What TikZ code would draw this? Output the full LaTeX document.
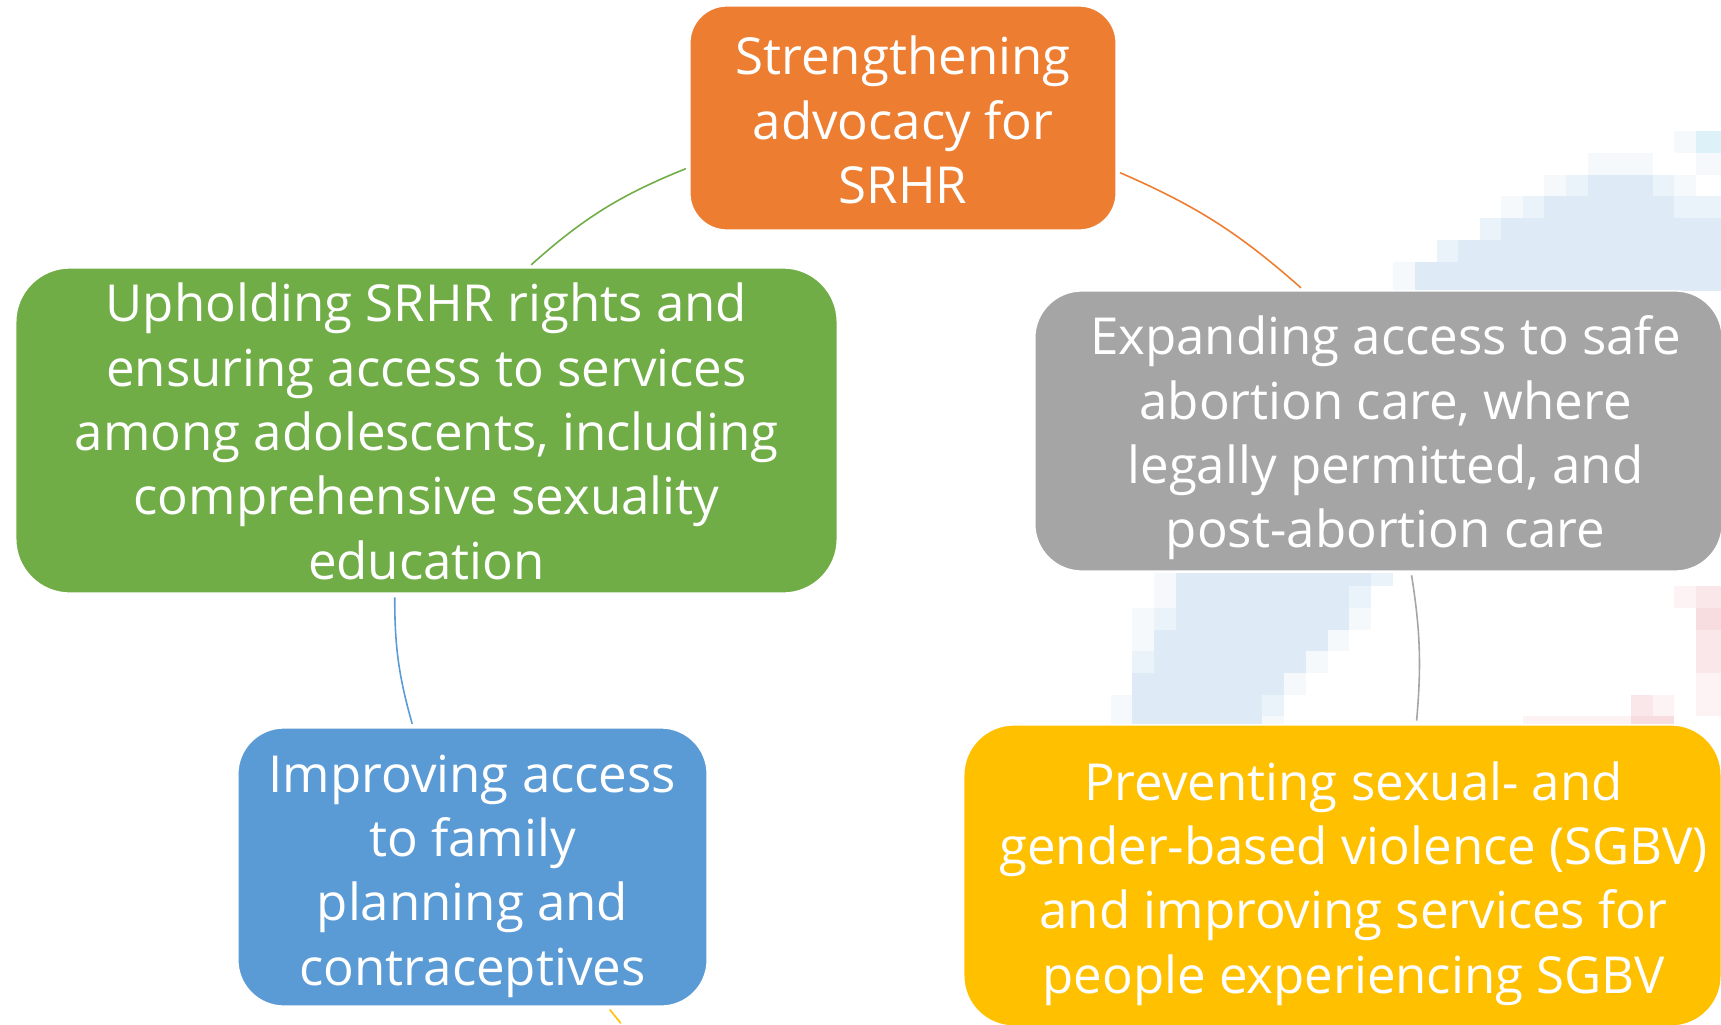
\documentclass[tikz,border=0pt]{standalone}
\usepackage{fontspec}
\setmainfont{Open Sans}
\usetikzlibrary{calc}
\definecolor{advcolor}{HTML}{ED7D31}
\definecolor{rightscolor}{HTML}{70AD47}
\definecolor{abortcolor}{HTML}{A5A5A5}
\definecolor{fpcolor}{HTML}{5B9BD5}
\definecolor{sgbvcolor}{HTML}{FFC000}
\definecolor{bgblue}{HTML}{DEEBF6}
\definecolor{bglight}{HTML}{EAF2FA}
\definecolor{bgpale}{HTML}{F5F9FC}
\definecolor{bgcyan}{HTML}{DDF1F8}
\definecolor{bgpink}{HTML}{F7DDE0}
\definecolor{bgpinklight}{HTML}{FAE7E9}
\definecolor{bgpinkpale}{HTML}{FDF3F4}
\tikzset{
  cyclebox/.style={draw=white,line width=0.4pt,inner sep=0pt},
  boxtext/.style={text=white,align=center,inner sep=0pt,font=\fontsize{14.5}{18.3}\selectfont},
  cyclearc/.style={line width=0.45pt,shorten <=1pt,shorten >=1pt}
}

\begin{document}
\begin{tikzpicture}[x=0.01cm,y=-0.01cm]
  \useasboundingbox (0,0) rectangle (1721,1024);
  \clip (0,0) rectangle (1721,1024);
  % pixelated picture behind the cycle
  \foreach \xa/\ya/\xb/\yb/\col in {
      1415/262/1721/291/bgblue, 1458/240/1721/262/bgblue, 1501/218/1721/240/bgblue,
      1544/196/1674/218/bgblue, 1588/175/1653/196/bgblue,
      1437/240/1458/262/bglight, 1480/218/1501/240/bglight, 1523/196/1544/218/bglight,
      1674/196/1721/218/bglight, 1566/175/1588/196/bglight, 1653/175/1674/196/bglight,
      1393/262/1415/291/bgpale, 1501/196/1523/218/bgpale, 1544/175/1566/196/bgpale,
      1674/175/1696/196/bgpale, 1588/153/1653/175/bgpale, 1696/153/1721/175/bgpale,
      1674/131/1696/153/bgpale, 1696/131/1721/153/bgcyan,
      1176/573/1371/586/bgblue, 1176/586/1349/608/bgblue, 1176/608/1349/630/bgblue,
      1154/630/1328/651/bgblue, 1154/651/1306/673/bgblue, 1132/673/1284/695/bgblue,
      1132/695/1262/724/bgblue,
      1371/573/1393/586/bglight, 1349/586/1371/608/bglight, 1154/608/1176/630/bglight,
      1132/651/1154/673/bglight, 1262/695/1284/716/bglight,
      1154/573/1176/608/bgpale, 1132/608/1154/651/bgpale, 1349/608/1371/630/bgpale,
      1328/630/1349/651/bgpale, 1306/651/1328/673/bgpale, 1284/673/1306/695/bgpale,
      1111/695/1132/724/bgpale, 1262/716/1284/724/bgpale,
      1696/608/1721/630/bgpink, 1631/716/1674/724/bgpink,
      1696/586/1721/608/bgpinklight, 1696/630/1721/673/bgpinklight, 1631/695/1653/716/bgpinklight,
      1674/586/1696/608/bgpinkpale, 1696/673/1721/716/bgpinkpale, 1523/716/1631/724/bgpinkpale,
      1653/695/1674/716/bgpinkpale}
    \fill[\col] (\xa,\ya) rectangle (\xb,\yb);

  \node[cyclebox,fill=advcolor,rounded corners=0.37cm,minimum width=4.26cm,minimum height=2.24cm]
    (ADV) at (903,118) {};
  \node[cyclebox,fill=abortcolor,rounded corners=0.47cm,minimum width=6.87cm,minimum height=2.80cm]
    (ABORT) at (1378.5,431) {};
  \node[cyclebox,fill=sgbvcolor,rounded corners=0.50cm,minimum width=7.57cm,minimum height=3.01cm]
    (SGBV) at (1342.5,875.5) {};
  \node[cyclebox,fill=fpcolor,rounded corners=0.46cm,minimum width=4.69cm,minimum height=2.78cm]
    (FP) at (472.5,867) {};
  \node[cyclebox,fill=rightscolor,rounded corners=0.54cm,minimum width=8.21cm,minimum height=3.25cm]
    (RIGHTS) at (426.5,430.5) {};

  \node[boxtext] (ADVTXT) at (903,120) {Strengthening\\advocacy for\\SRHR};
  \node[boxtext] (ABORTTXT) at (1385.5,438) {Expanding access to safe\\abortion care, where\\legally permitted, and\\post-abortion care};
  \node[boxtext] (SGBVTXT) at (1353.5,883.5) {Preventing sexual- and\\gender-based violence (SGBV)\\and improving services for\\people experiencing SGBV};
  \node[boxtext] (FPTXT) at (472.5,876) {Improving access\\to family\\planning and\\contraceptives};
  \node[boxtext] (RIGHTSTXT) at (426.5,431.5) {Upholding SRHR rights and\\ensuring access to services\\among adolescents, including\\comprehensive sexuality\\education};

  \coordinate (YOUT) at (623,1026);
  \draw (ADV.346.5) to[bend left=9] (ABORT.118) [cyclearc,draw=advcolor];
  \draw (ABORT.283.8) to[bend left=7] (SGBV.64) [cyclearc,draw=abortcolor];
  \draw (YOUT) -- (FP.314.1) [cyclearc,draw=sgbvcolor];
  \draw (FP.113.2) to[bend left=8] (RIGHTS.259.4) [cyclearc,draw=fpcolor];
  \draw (RIGHTS.58.8) to[bend left=10] (ADV.193.5) [cyclearc,draw=rightscolor];
\end{tikzpicture}
\end{document}
